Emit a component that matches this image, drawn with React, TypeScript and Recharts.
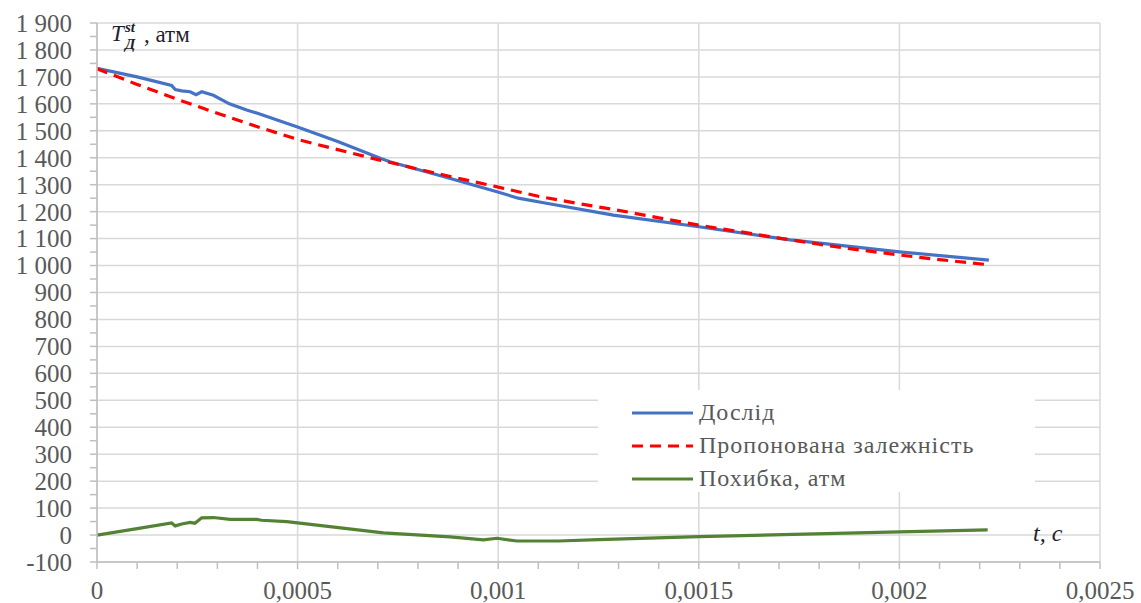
import React from "react";
import { CartesianGrid, Legend, Line, LineChart, XAxis, YAxis } from "recharts";

// Дослід (experiment)
const expT = [0, 0.0001, 0.000186, 0.000195, 0.000211, 0.000232, 0.000247, 0.000261, 0.00029, 0.00033, 0.000373, 0.0004, 0.000498, 0.0006, 0.000706, 0.00073, 0.000872, 0.000997, 0.00105, 0.00112, 0.001287, 0.0015, 0.001728, 0.002, 0.002223];
const expV = [1732, 1700, 1668, 1653, 1648, 1645, 1634, 1645, 1632, 1600, 1577, 1565, 1515, 1460, 1398, 1385, 1327, 1274, 1250, 1231, 1187, 1144, 1095, 1051, 1020];

// Пропонована залежність (proposed fit)
const fitT = [0, 0.0001, 0.0002, 0.0003, 0.0004, 0.0005, 0.0006, 0.0007, 0.0008, 0.0009, 0.001, 0.0011, 0.0012, 0.0013, 0.0014, 0.0015, 0.0016, 0.0017, 0.0018, 0.0019, 0.002, 0.0021, 0.002223];
const fitV = [1730, 1672, 1617, 1565, 1515, 1468, 1430, 1393, 1358, 1324, 1291, 1257, 1230, 1205, 1177, 1150, 1126, 1102, 1079, 1058, 1039, 1022, 1003];

// Похибка, атм (error)
const errT = [0, 0.0001, 0.000186, 0.000195, 0.000211, 0.000232, 0.000244, 0.000261, 0.00029, 0.000332, 0.000398, 0.00041, 0.000473, 0.0005, 0.000714, 0.00088, 0.000963, 0.000997, 0.001047, 0.00115, 0.00125, 0.0015, 0.002, 0.00222];
const errV = [0, 24, 45, 34, 41, 47, 44, 64, 65, 58, 58, 55, 50, 45, 8, -7, -18, -12, -22, -22, -17, -6, 12, 19];

const xTicks = [0, 0.0001, 0.0002, 0.0003, 0.0004, 0.0005, 0.0006, 0.0007, 0.0008, 0.0009, 0.001, 0.0011, 0.0012, 0.0013, 0.0014, 0.0015, 0.0016, 0.0017, 0.0018, 0.0019, 0.002, 0.0021, 0.0022, 0.0023, 0.0024, 0.0025];
const xMajor = [0, 0.0005, 0.001, 0.0015, 0.002, 0.0025];
const yTicks = Array.from({ length: 41 }, (_, i) => -100 + i * 50);
const yMajor = yTicks.filter((v) => v % 100 === 0);

const series = [
  { name: "Дослід", color: "#4472C4", dash: undefined as string | undefined, t: expT, v: expV },
  { name: "Пропонована залежність", color: "#FF0000", dash: "11 7", t: fitT, v: fitV },
  { name: "Похибка, атм", color: "#548235", dash: undefined, t: errT, v: errV },
];

const FONT = "'Liberation Serif', 'Times New Roman', Times, Tinos, 'Nimbus Roman', FreeSerif, 'Noto Serif', 'DejaVu Serif', serif";
const GREY = "#595959";

const fmtX = (v: number) => (xMajor.some((m) => Math.abs(m - v) < 1e-9) ? String(v).replace(".", ",") : "");
const fmtY = (v: number) => {
  if (v % 100 !== 0) return "";
  if (Math.abs(v) < 1000) return String(v);
  return `${Math.floor(v / 1000)} ${String(v % 1000).padStart(3, "0")}`;
};

function LegendBox() {
  return (
    <div style={{ fontFamily: FONT, fontSize: 24, letterSpacing: 1, color: GREY, paddingTop: 6 }}>
      {series.map((s) => (
        <div key={s.name} style={{ display: "flex", alignItems: "center", height: 33 }}>
          <svg width={100} height={10} style={{ flex: "none" }}>
            <line x1={34} x2={95} y1={5} y2={5} stroke={s.color} strokeWidth={3} strokeDasharray={s.dash} />
          </svg>
          <span style={{ marginLeft: 1 }}>{s.name}</span>
        </div>
      ))}
    </div>
  );
}

export default function App() {
  return (
    <div style={{ position: "relative", width: 1141, height: 603, background: "#fff" }}>
      <style>{`body{margin:0}`}</style>
      <LineChart width={1141} height={603} margin={{ top: 23, right: 41, left: 0, bottom: 0 }}>
        <CartesianGrid stroke="#d9d9d9" strokeWidth={1.5} horizontalValues={yMajor} verticalValues={xMajor} />
        <XAxis
          dataKey="t"
          type="number"
          domain={[0, 0.0025]}
          ticks={xTicks}
          interval={0}
          tickFormatter={fmtX}
          height={41}
          tickSize={7}
          tickMargin={12}
          stroke="#bfbfbf"
          strokeWidth={1.5}
          tick={{ fill: GREY, fontFamily: FONT, fontSize: 25 }}
          allowDataOverflow
        />
        <YAxis
          type="number"
          domain={[-100, 1900]}
          ticks={yTicks}
          interval={0}
          tickFormatter={fmtY}
          width={97}
          tickSize={7}
          tickMargin={18}
          stroke="#bfbfbf"
          strokeWidth={1.5}
          tick={{ fill: GREY, fontFamily: FONT, fontSize: 25 }}
          allowDataOverflow
        />
        <Legend
          layout="vertical"
          align="center"
          verticalAlign="middle"
          content={() => <LegendBox />}
          wrapperStyle={{ left: 598, top: 390, width: 437, height: 102, backgroundColor: "#fff" }}
        />
        {series.map((s) => (
          <Line
            key={s.name}
            name={s.name}
            data={s.t.map((t, i) => ({ t, v: s.v[i] }))}
            dataKey="v"
            type="linear"
            stroke={s.color}
            strokeWidth={3.2}
            strokeDasharray={s.dash}
            dot={false}
            activeDot={false}
            isAnimationActive={false}
          />
        ))}
      </LineChart>
      <svg width={1141} height={603} style={{ position: "absolute", left: 0, top: 0, pointerEvents: "none" }}>
        <g fontFamily={FONT} fill="#1f1f2e">
          <text x={111} y={41} fontSize={23} fontStyle="italic">T</text>
          <text x={125} y={32} fontSize={15} fontStyle="italic" fontWeight="bold">st</text>
          <text x={125} y={49} fontSize={15} fontStyle="italic" fontWeight="bold">Д</text>
          <text x={144} y={42} fontSize={23}>, атм</text>
          <text x={1033} y={541} fontSize={24} fontStyle="italic">t, c</text>
        </g>
      </svg>
    </div>
  );
}
